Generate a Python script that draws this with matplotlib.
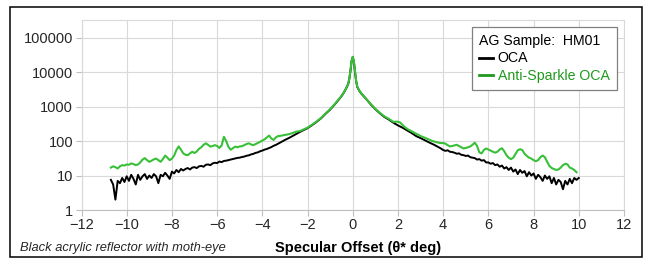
"""Specular scatter profile: OCA vs Anti-Sparkle OCA (log scale)."""

import matplotlib

matplotlib.use("Agg")
import matplotlib.pyplot as plt
from matplotlib.patches import Rectangle
from matplotlib.ticker import FixedLocator, FuncFormatter

plt.rcParams.update({"font.family": ["Liberation Sans", "DejaVu Sans"]})

# --- data ----------------------------------------------------------------
angle_left = [
    -10.7, -10.6, -10.5, -10.4, -10.3, -10.2, -10.1, -10.0,
    -9.9, -9.8, -9.7, -9.6, -9.5, -9.4, -9.3, -9.2, -9.1, -9.0,
    -8.9, -8.8, -8.7, -8.6, -8.5, -8.4, -8.3, -8.2, -8.1, -8.0,
    -7.9, -7.8, -7.7, -7.6, -7.5, -7.4, -7.3, -7.2, -7.1, -7.0,
    -6.9, -6.8, -6.7, -6.6, -6.5, -6.4, -6.3, -6.2, -6.1, -6.0,
    -5.9, -5.8, -5.7, -5.6, -5.5, -5.4, -5.3, -5.2, -5.1, -5.0,
    -4.9, -4.8, -4.7, -4.6, -4.5, -4.4, -4.3, -4.2, -4.1, -4.0,
    -3.9, -3.8, -3.7, -3.6, -3.5, -3.4, -3.3, -3.2, -3.1, -3.0,
    -2.9, -2.8, -2.7, -2.6, -2.5, -2.4, -2.3, -2.2, -2.1, -2.0,
]
angle_mid = [
    -1.8, -1.6, -1.4, -1.2, -1.0, -0.8, -0.6, -0.5, -0.4, -0.3, -0.2, -0.15,
    -0.1, -0.05, 0.0, 0.05, 0.1, 0.15, 0.2, 0.3, 0.4, 0.5, 0.6, 0.8, 1.0,
    1.2, 1.4, 1.6, 1.8,
]
angle_right = [
    1.9, 2.0, 2.1, 2.2, 2.3, 2.4, 2.5, 2.6, 2.7, 2.8, 2.9,
    3.0, 3.1, 3.2, 3.3, 3.4, 3.5, 3.6, 3.7, 3.8, 3.9,
    4.0, 4.1, 4.2, 4.3, 4.4, 4.5, 4.6, 4.7, 4.8, 4.9,
    5.0, 5.1, 5.2, 5.3, 5.4, 5.5, 5.6, 5.7, 5.8, 5.9,
    6.0, 6.1, 6.2, 6.3, 6.4, 6.5, 6.6, 6.7, 6.8, 6.9,
    7.0, 7.1, 7.2, 7.3, 7.4, 7.5, 7.6, 7.7, 7.8, 7.9,
    8.0, 8.1, 8.2, 8.3, 8.4, 8.5, 8.6, 8.7, 8.8, 8.9,
    9.0, 9.1, 9.2, 9.3, 9.4, 9.5, 9.6, 9.7, 9.8, 9.9,
]
angle_end = [10.0]

oca_left = [
    7.5, 5.5, 2.0, 7, 6, 8.5, 6.5, 9.5,
    7, 10.5, 8, 5.5, 10.5, 7.5, 9.5, 11, 8, 10,
    8.5, 11, 9.5, 6, 10.5, 9.5, 12, 10, 8, 13,
    11.5, 14.5, 12.5, 15.5, 14, 15.5, 16.5, 15, 17, 17.5,
    16.5, 18.5, 19, 18, 20.5, 21, 20, 22.5, 23.5, 23,
    25.5, 24.5, 26.5, 27, 28, 29, 30, 31, 32.5, 33,
    34.5, 35.5, 37.5, 38.5, 41, 42.5, 45.5, 47, 50.5, 53,
    56.5, 59, 63, 67, 73, 77.5, 84, 91, 99, 108,
    116, 125, 136, 148, 160, 174, 190, 205, 220, 237,
]
oca_mid = [
    290, 360, 460, 620, 820, 1150, 1650, 2000, 2500, 3300, 4500, 6500,
    11000, 21000, 27500, 20000, 10000, 5500, 3700, 2800, 2300, 1950, 1650,
    1150, 840, 640, 500, 420, 340,
]
oca_right = [
    310, 285, 265, 245, 225, 205, 188, 172, 155, 140, 131,
    122, 113, 104, 97, 90, 84, 78, 72, 66, 61,
    55, 52, 54, 49, 48, 46, 43, 44, 40, 39,
    37, 38, 34, 33, 32, 29, 30, 27, 28, 24,
    24, 22, 23, 20, 21, 18, 19.5, 16, 17.5, 14.5,
    17, 13, 15, 11, 14.5, 12, 13.5, 9.5, 12.5, 10,
    11.5, 8, 10.5, 9, 7, 10, 8, 9.5, 6, 8.5,
    5.5, 7.5, 6.5, 4, 7, 5.5, 8, 6, 8.5, 7.5,
]
oca_end = [8.5]

anti_left = [
    17, 18.5, 17.5, 16, 18.5, 20, 19.5, 21,
    20.5, 22.5, 21.5, 20, 21, 24, 29, 32, 28, 25,
    27, 29.5, 31, 28, 25, 30, 38, 33, 28, 31,
    38, 55, 70, 56, 44, 40, 39, 44, 49, 45,
    50, 60, 66, 78, 86, 78, 69, 72, 76, 72,
    63, 75, 133, 100, 68, 56, 62, 69, 66, 70,
    71, 76, 82, 86, 80, 76, 82, 89, 95, 104,
    112, 128, 145, 118, 108, 128, 140, 142, 146, 149,
    155, 160, 168, 178, 188, 192, 200, 214, 228, 245,
]
anti_mid = [
    298, 370, 470, 635, 840, 1170, 1680, 2030, 2550, 3350, 4600, 6600,
    11500, 22000, 28000, 21000, 10500, 5600, 3800, 2850, 2350, 1980, 1680,
    1180, 860, 660, 520, 440, 360,
]
anti_right = [
    365, 365, 345, 295, 255, 228, 208, 192, 178, 165, 152,
    140, 132, 124, 116, 108, 102, 97, 93, 90, 87,
    88, 84, 76, 70, 72, 75, 78, 72, 66, 61,
    63, 66, 70, 78, 90, 72, 47, 44, 55, 61,
    57, 53, 49, 46, 49, 57, 62, 51, 39, 33,
    30, 33, 42, 54, 58, 55, 43, 37, 33, 31,
    28, 26, 28, 34, 38, 34, 25, 19, 16.5, 15.5,
    14.5, 15, 17, 20, 22, 21, 17, 16, 14.5, 12.5,
]

x_ticks = [-12, -10, -8, -6, -4, -2, 0, 2, 4, 6, 8, 10, 12]
y_ticks = [1, 10, 100, 1000, 10000, 100000]

GREEN = "#38c038"
GREEN_TEXT = "#1e9a1e"

# --- figure --------------------------------------------------------------
W, H = 647, 261
fig = plt.figure(figsize=(W / 100, H / 100), dpi=100)
ax = fig.add_axes([81.5 / W, 1 - 210 / H, (624 - 81.5) / W, (210 - 20) / H])

ax.plot(angle_left + angle_mid + angle_right + angle_end,
        oca_left + oca_mid + oca_right + oca_end,
        color="black", lw=1.4, zorder=3, label="OCA")
ax.plot(angle_left + angle_mid + angle_right,
        anti_left + anti_mid + anti_right,
        color=GREEN, lw=1.5, zorder=4, label="Anti-Sparkle OCA")

ax.set_yscale("log")
ax.set_xlim(-12, 12)
ax.set_ylim(1, 10 ** 5.513)
ax.xaxis.set_major_locator(FixedLocator(x_ticks))
ax.yaxis.set_major_locator(FixedLocator(y_ticks))
ax.yaxis.set_minor_locator(FixedLocator([]))
ax.yaxis.set_major_formatter(FuncFormatter(lambda v, _: f"{v:.0f}"))
ax.tick_params(axis="both", length=4, width=0.8, color="#bfbfbf",
               labelsize=10.5, labelcolor="#262626", pad=2)
ax.grid(True, color="#d9d9d9", lw=0.8)
for name, sp in ax.spines.items():
    sp.set_color("#bfbfbf" if name == "bottom" else "#d9d9d9")
    sp.set_linewidth(0.8)

leg = ax.legend(title="AG Sample:  HM01", loc="upper right",
                bbox_to_anchor=(616.7 / W, 1 - 27.3 / H),
                bbox_transform=fig.transFigure, borderaxespad=0,
                fancybox=False, edgecolor="#808080", framealpha=1,
                handlelength=1.0, handletextpad=0.35, labelspacing=0.22,
                fontsize=10.2, title_fontsize=10.2, alignment="left",
                borderpad=0.5)
leg.get_frame().set_linewidth(0.9)
leg.get_lines()[0].set_linewidth(2.0)
leg.get_lines()[1].set_color(GREEN_TEXT)
leg.get_lines()[1].set_linewidth(2.0)
leg.get_texts()[1].set_color(GREEN_TEXT)
leg.set_zorder(10)

fig.text(358 / W, 1 - 248 / H, "Specular Offset (θ* deg)", fontsize=10.5,
         fontweight="bold", ha="center", va="center")
fig.text(20 / W, 1 - 248 / H, "Black acrylic reflector with moth-eye",
         fontsize=9.3, style="italic", ha="left", va="center", color="#262626")

fig.add_artist(Rectangle((10 / W, 1 - 257 / H), 632 / W, 250 / H,
                         transform=fig.transFigure, fill=False,
                         edgecolor="black", lw=1.1))

fig.savefig("out.png", dpi=100)
